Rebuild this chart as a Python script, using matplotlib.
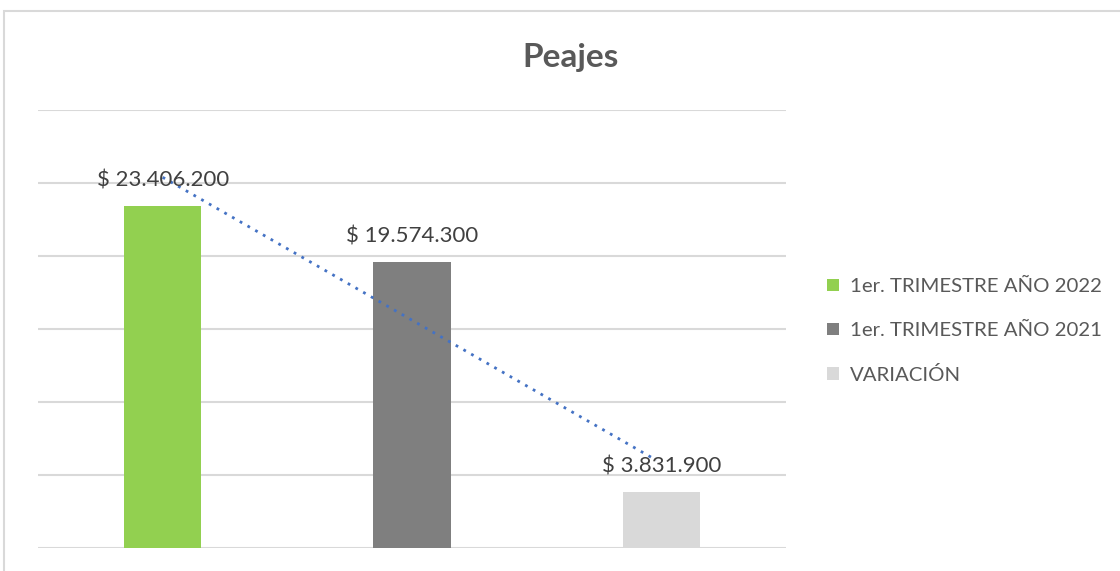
import matplotlib
matplotlib.use("Agg")
import matplotlib.pyplot as plt
from matplotlib.patches import Rectangle, Patch
import numpy as np

categories = ["1er. TRIMESTRE AÑO 2022", "1er. TRIMESTRE AÑO 2021", "VARIACIÓN"]
values = [23406200, 19574300, 3831900]
labels = ["$ 23.406.200", "$ 19.574.300", "$ 3.831.900"]
colors = ["#92D050", "#7F7F7F", "#D9D9D9"]
title = "Peajes"

plt.rcParams['font.family'] = ['Lato', 'DejaVu Sans']

W, H = 1120, 571
fig = plt.figure(figsize=(W/100, H/100), dpi=100)

# outer frame (cut at right and bottom)
fig.patches.append(Rectangle((4/W, -0.2), 2, 0.2 + (H-11)/H, transform=fig.transFigure,
                             fill=False, edgecolor="#D9D9D9", linewidth=1.5))

ax = fig.add_axes([38/W, (H-548)/H, (786-38)/W, (548-110)/H])
x = np.arange(len(values))
bars = ax.bar(x, values, width=0.31, color=colors, zorder=3)
ax.set_xlim(-0.5, 2.5)
ax.set_ylim(0, 30000000)
ax.set_yticks(np.arange(0, 30000001, 5000000))
ax.yaxis.grid(True, color="#D9D9D9", linewidth=1.5, zorder=0)
ax.tick_params(left=False, bottom=False, labelleft=False, labelbottom=False)
for s in ax.spines.values():
    s.set_visible(False)

for xi, v, lab in zip(x, values, labels):
    ax.annotate(lab, (xi, v), xytext=(0, 11), textcoords="offset points",
                ha="center", va="bottom", fontsize=16, color="#404040", zorder=5)

# linear trendline
coef = np.polyfit(x + 1, values, 1)
tx = np.array([x[0], x[-1] - 0.02])
ax.plot(tx, np.polyval(coef, tx + 1), linestyle=(0, (1, 2.2)), color="#4472C4",
        linewidth=2, zorder=4)

fig.text(571/W, 1 - 57/H, title, ha="center", va="center", fontsize=24,
         fontweight="bold", color="#595959")

handles = [Patch(facecolor=c, edgecolor="none") for c in colors]
fig.legend(handles, categories, loc="center left", bbox_to_anchor=(809/W, 1 - 331/H),
           frameon=False, fontsize=14.7, labelcolor="#595959",
           handlelength=0.55, handleheight=0.55, handletextpad=0.55, labelspacing=1.3)

fig.savefig("out.png", dpi=100)
